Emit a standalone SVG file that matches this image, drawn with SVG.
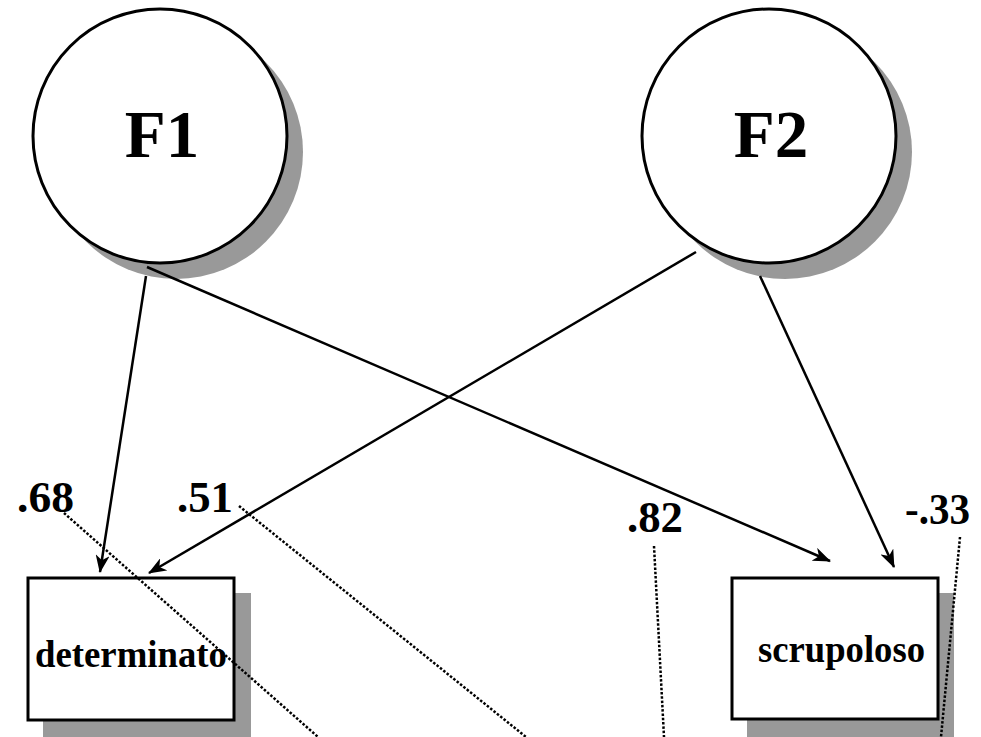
<svg xmlns="http://www.w3.org/2000/svg" width="981" height="737" viewBox="0 0 981 737">
<style>
.shadow{fill:#999999;stroke:none}
.node{fill:#ffffff;stroke:#000;stroke-width:3}
.t{font-family:"Liberation Serif","Times New Roman",serif;font-weight:bold;fill:#000}
.edge{stroke:#000;stroke-width:2.5;fill:none;marker-end:url(#ah)}
.dot{stroke:#000;stroke-width:2.5;stroke-dasharray:2.5,1.8;fill:none}
</style>
<defs>
<marker id="ah" viewBox="0 0 18 14" refX="17" refY="7" markerWidth="18" markerHeight="14" markerUnits="userSpaceOnUse" orient="auto">
<path d="M0,0 L18,7 L0,14 L5,7 Z" fill="#000"/>
</marker>
</defs>
<rect width="981" height="737" fill="#ffffff"/>
<g id="F1">
<circle class="shadow" cx="176" cy="152" r="127"/>
<circle class="node" cx="160" cy="136" r="127"/>
<text class="t" x="162" y="157" font-size="67" text-anchor="middle">F1</text>
</g>
<g id="F2">
<circle class="shadow" cx="785" cy="152" r="127"/>
<circle class="node" cx="769" cy="136" r="127"/>
<text class="t" x="771" y="157" font-size="67" text-anchor="middle">F2</text>
</g>
<g id="determinato">
<rect class="shadow" x="43" y="593" width="208" height="160"/>
<rect class="node" x="28" y="578" width="206" height="142"/>
<text class="t" x="35" y="667" font-size="37" textLength="192" lengthAdjust="spacingAndGlyphs">determinato</text>
</g>
<g id="scrupoloso">
<rect class="shadow" x="747" y="593" width="207" height="160"/>
<rect class="node" x="732" y="578" width="206" height="141"/>
<text class="t" x="758" y="662" font-size="37" textLength="167" lengthAdjust="spacingAndGlyphs">scrupoloso</text>
</g>
<g id="labels">
<text class="t" x="17" y="512" font-size="44" textLength="57" lengthAdjust="spacingAndGlyphs">.68</text>
<text class="t" x="177" y="512" font-size="44" textLength="56" lengthAdjust="spacingAndGlyphs">.51</text>
<text class="t" x="627" y="532" font-size="44" textLength="56" lengthAdjust="spacingAndGlyphs">.82</text>
<text class="t" x="905" y="524" font-size="44" textLength="65" lengthAdjust="spacingAndGlyphs">-.33</text>
</g>
<g id="connectors">
<line class="edge" x1="146" y1="276" x2="100" y2="572"/>
<line class="edge" x1="147" y1="267" x2="830" y2="561"/>
<line class="edge" x1="696" y1="252" x2="149" y2="573"/>
<line class="edge" x1="760" y1="276" x2="894" y2="567"/>
<line class="dot" x1="64" y1="513" x2="318" y2="737"/>
<line class="dot" x1="239" y1="506" x2="526" y2="737"/>
<line class="dot" x1="654" y1="546" x2="664" y2="737"/>
<line class="dot" x1="960" y1="537" x2="941" y2="737"/>
</g>
</svg>
